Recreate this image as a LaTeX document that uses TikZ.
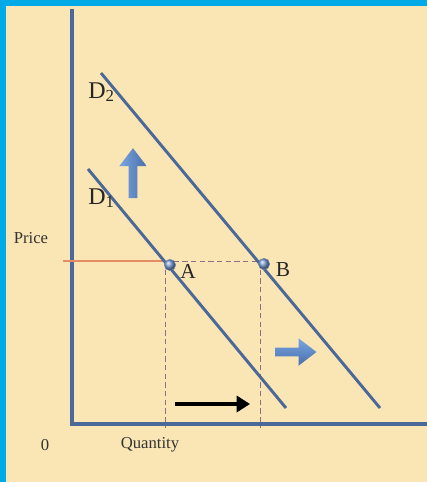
\documentclass[tikz,border=0pt]{standalone}
\usepackage{fontspec}
\setmainfont{Liberation Serif}
\usetikzlibrary{arrows.meta,shapes.arrows}
\definecolor{framecyan}{RGB}{0,170,230}
\definecolor{paper}{RGB}{250,229,181}
\definecolor{axisblue}{RGB}{74,104,152}
\definecolor{shiftblue}{RGB}{88,130,200}
\definecolor{shiftlight}{RGB}{120,165,225}
\definecolor{guidered}{RGB}{170,115,120}
\definecolor{priceorange}{RGB}{228,140,100}
\tikzset{
  chart/.style={x=0.75pt,y=-0.75pt,>=Latex},
  axisline/.style={draw=axisblue,line width=3pt},
  demand/.style={draw=axisblue,line width=2.2pt},
  guide/.style={draw=guidered!70!axisblue,line width=0.6pt,dash pattern=on 4pt off 2.5pt},
  pointdot/.style={circle,inner sep=0pt,minimum size=8.5pt,draw=axisblue!80,line width=0.4pt,ball color=shiftblue!80!white},
  axislabel/.style={font=\fontsize{12.5}{14}\selectfont,text=black!80},
  curvename/.style={font=\fontsize{18}{20}\selectfont,text=black!85,inner sep=0pt},
  pointname/.style={font=\fontsize{16}{18}\selectfont,text=black!85,inner sep=0pt},
  fatarrow/.style={single arrow,draw=none,inner sep=3pt,single arrow tip angle=75},
  moveline/.style={-{Triangle[length=10pt,width=12pt]},line width=3pt,black},
}
\begin{document}
\begin{tikzpicture}[chart]
\useasboundingbox (0,0) rectangle (427,482);
% page
\fill[paper] (0,0) rectangle (427,482);
\fill[framecyan] (0,0) rectangle (427,6);
\fill[framecyan] (0,0) rectangle (6,482);

% axes
\coordinate (ytop) at (72,9);
\coordinate (xend) at (427,424);
\draw[axisline] (ytop) |- (xend);
\node[axislabel] (price) at (31,238) {Price};
\node[axislabel] (zero) at (45,445) {0};
\node[axislabel] (qty) at (150,445) {Quantity};

% price and quantity guides
\coordinate (pstart) at (63,261);
\coordinate (pa) at (165,261);
\coordinate (pb) at (260,261);
\coordinate (qa) at (165,428);
\coordinate (qb) at (260,428);
\draw[priceorange,line width=1.4pt] (pstart) -- (pa);
\draw[guide] (pa) -- (pb);
\draw[guide] (pa) -- (qa);
\draw[guide] (pb) -- (qb);

% demand curves
\coordinate (d1top) at (88,169);
\coordinate (d1end) at (286,408);
\coordinate (d2top) at (101,73);
\coordinate (d2end) at (380,408);
\draw[demand] (d1top) -- (d1end);
\draw[demand] (d2top) -- (d2end);
\node[curvename,anchor=west] (done) at (88,198) {D\textsubscript{1}};
\node[curvename,anchor=west] (dtwo) at (88,92) {D\textsubscript{2}};

% points
\node[pointdot] (A) at (170,265) {};
\node[pointdot] (B) at (264,264) {};
\node[pointname] (Alab) at (188,271) {A};
\node[pointname] (Blab) at (283,270) {B};

% shift arrows
\node[fatarrow,shape border rotate=90,minimum height=37.5pt,minimum width=11pt,
  left color=shiftlight,right color=shiftblue!85!black] (up) at (133,176) {};
\node[fatarrow,minimum height=31pt,minimum width=13pt,
  top color=shiftlight,bottom color=shiftblue!85!black] (right) at (293,352) {};
\coordinate (mvstart) at (175,404);
\coordinate (mvend) at (250,404);
\draw[moveline] (mvstart) -- (mvend);
\end{tikzpicture}
\end{document}
